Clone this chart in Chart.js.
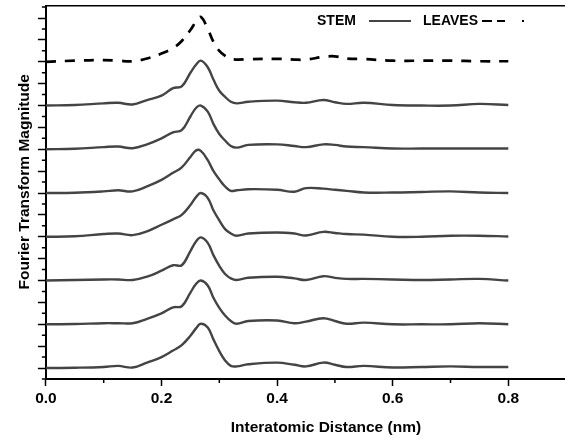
<html>

<head>
  <script src="https://cdn.jsdelivr.net/npm/chart.js@4.4.0/dist/chart.umd.min.js"></script>
  <style>
    body { margin: 0; overflow: hidden; background: #fff; }
  </style>
</head>

<body>
  <canvas id="ftChart" width="610" height="439"></canvas>
</body>

<script>
  // interatomic distance (nm), shared by every curve
  const distance = [0, 0.05, 0.1, 0.125, 0.15, 0.175, 0.2, 0.22, 0.235, 0.25, 0.26, 0.268, 0.28, 0.29, 0.3,
    0.31, 0.32, 0.33, 0.35, 0.4, 0.43, 0.45, 0.48, 0.5, 0.52, 0.55, 0.6, 0.65, 0.7, 0.75, 0.8];

  // magnitudes (each curve relative to its own baseline)
  const leaves = [0, 0.1, 0.15, 0.1, 0.05, 0.3, 0.75, 1.25, 1.9, 2.9, 3.7, 4.1, 3.0, 1.8, 1.0,
    0.55, 0.27, 0.2, 0.23, 0.27, 0.2, 0.2, 0.45, 0.5, 0.3, 0.25, 0.1, 0.1, 0.1, 0.05, 0.05];
  const stem1 = [0, 0.05, 0.2, 0.25, 0.1, 0.5, 0.9, 1.6, 1.75, 3.0, 3.75, 4.1, 3.5, 2.35, 1.35,
    0.8, 0.35, 0.2, 0.35, 0.45, 0.3, 0.25, 0.5, 0.3, 0.15, 0.25, 0.05, 0, 0, 0.15, 0.05];
  const stem2 = [0, 0.05, 0.2, 0.25, 0.1, 0.45, 1.0, 1.55, 1.75, 3.0, 3.8, 4.0, 3.45, 2.3, 1.4,
    0.8, 0.3, 0.15, 0.4, 0.45, 0.3, 0.2, 0.45, 0.4, 0.25, 0.2, 0.07, 0.07, 0.07, 0.07, 0.07];
  const stem3 = [0, 0.03, 0.15, 0.25, 0.15, 0.6, 1.2, 1.85, 2.35, 3.3, 3.9, 3.85, 3.0, 2.0, 1.25,
    0.6, 0.2, 0.25, 0.35, 0.3, 0.12, 0.45, 0.4, 0.3, 0.2, 0.05, 0.05, 0.1, 0.15, 0.05, 0];
  const stem4 = [0, 0.05, 0.25, 0.3, 0.15, 0.5, 1.1, 1.6, 2.0, 2.9, 3.65, 4.0, 3.55, 2.4, 1.5,
    0.7, 0.3, 0.1, 0.3, 0.4, 0.3, 0.12, 0.45, 0.35, 0.25, 0.2, 0, 0, 0.1, 0.1, 0.03];
  const stem5 = [0, 0.05, 0.1, 0.1, 0.05, 0.35, 0.9, 1.4, 1.4, 2.7, 3.6, 3.95, 3.45, 2.3, 1.35,
    0.6, 0.2, 0.05, 0.25, 0.35, 0.2, 0.05, 0.4, 0.25, 0.15, 0.15, 0.1, 0.05, 0.1, 0.15, 0];
  const stem6 = [0, 0.03, 0.1, 0.1, 0.1, 0.5, 1.0, 1.55, 1.65, 2.9, 3.7, 4.0, 3.55, 2.4, 1.5,
    0.8, 0.3, 0.05, 0.3, 0.35, 0.1, 0.25, 0.55, 0.3, 0.05, 0.15, 0, 0, 0, 0.1, 0];
  const stem7 = [0, 0.03, 0.1, 0.2, 0.05, 0.5, 1.0, 1.6, 2.1, 2.95, 3.65, 4.05, 3.7, 2.6, 1.55,
    0.7, 0.2, 0.15, 0.35, 0.5, 0.3, 0.15, 0.5, 0.3, 0.1, 0.2, 0.05, 0.1, 0.15, 0.1, 0.1];

  // curves top to bottom, each one shifted up by offsetStep
  const curves = [leaves, stem1, stem2, stem3, stem4, stem5, stem6, stem7];
  const offsetStep = 4;

  const xTickLabels = ['0.0', '0.2', '0.4', '0.6', '0.8'];
  const xMinorTicks = [0.1, 0.3, 0.5, 0.7, 0.9];
  const yMinorTicks = [-1, 1, 3, 5, 7, 9, 11, 13, 15, 17, 19, 21, 23, 25, 27, 29, 31, 33];

  const FONT = "'Liberation Sans', Arial, sans-serif";
  Chart.defaults.font.family = FONT;
  Chart.defaults.color = '#000';

  const datasets = curves.map(function (vals, i) {
    const shift = (curves.length - 1 - i) * offsetStep;
    const isLeaves = i === 0;
    return {
      label: isLeaves ? 'LEAVES' : 'STEM',
      data: distance.map((d, k) => ({ x: d, y: vals[k] + shift })),
      borderColor: isLeaves ? '#000' : '#444',
      borderWidth: isLeaves ? 2.7 : 2.4,
      borderDash: isLeaves ? [10, 9] : [],
      pointRadius: 0,
      tension: 0.4,
      fill: false
    };
  });

  // short minor ticks + the little legend in the upper right
  const extras = {
    id: 'extras',
    afterDraw(chart) {
      const { ctx, chartArea, scales } = chart;
      ctx.save();
      ctx.strokeStyle = '#000';
      ctx.lineWidth = 1.5;
      ctx.beginPath();
      xMinorTicks.forEach(v => {
        const px = scales.x.getPixelForValue(v);
        ctx.moveTo(px, chartArea.bottom);
        ctx.lineTo(px, chartArea.bottom + 4);
      });
      yMinorTicks.forEach(v => {
        const py = scales.y.getPixelForValue(v);
        ctx.moveTo(chartArea.left - 4, py);
        ctx.lineTo(chartArea.left, py);
      });
      ctx.stroke();

      // legend
      const ly = chartArea.top + 15;
      ctx.font = 'bold 14px ' + FONT;
      ctx.textBaseline = 'middle';
      ctx.fillStyle = '#000';
      ctx.fillText('STEM', 317, ly);
      ctx.strokeStyle = '#444';
      ctx.lineWidth = 2;
      ctx.beginPath();
      ctx.moveTo(369, ly);
      ctx.lineTo(411, ly);
      ctx.stroke();
      ctx.fillText('LEAVES', 423, ly);
      ctx.strokeStyle = '#000';
      ctx.lineWidth = 2.2;
      ctx.setLineDash([10, 5, 8, 17, 2, 30]);
      ctx.beginPath();
      ctx.moveTo(482, ly);
      ctx.lineTo(524, ly);
      ctx.stroke();
      ctx.restore();
    }
  };

  const ctx = document.getElementById('ftChart').getContext('2d');
  const chart = new Chart(ctx, {
    type: 'line',
    data: { datasets },
    plugins: [extras],
    options: {
      responsive: false,
      animation: false,
      layout: { padding: { left: 11.3, top: 6, right: 4, bottom: 1.8 } },
      plugins: { legend: { display: false }, tooltip: { enabled: false } },
      scales: {
        x: {
          type: 'linear',
          min: 0,
          max: 0.969,
          ticks: {
            stepSize: 0.2,
            includeBounds: false,
            maxRotation: 0,
            autoSkip: false,
            font: { size: 15.5, weight: 'bold' },
            callback: (v, i) => xTickLabels[i]
          },
          grid: { drawOnChartArea: false, tickLength: 7, tickWidth: 1.5, tickColor: '#000' },
          border: { color: '#000', width: 2 },
          title: {
            display: true,
            text: 'Interatomic Distance (nm)',
            font: { size: 15.5, weight: 'bold' },
            padding: { top: 8, bottom: 0 }
          }
        },
        xTop: {
          type: 'linear',
          position: 'top',
          min: 0,
          max: 0.969,
          ticks: { display: false },
          grid: { display: false, drawTicks: false },
          border: { display: true, color: '#000', width: 1.5 }
        },
        y: {
          min: -1,
          max: 33.1,
          ticks: { display: false, stepSize: 2, includeBounds: false },
          grid: { drawOnChartArea: false, tickLength: 8, tickWidth: 1.5, tickColor: '#000' },
          border: { color: '#000', width: 2 },
          title: {
            display: true,
            // leading spaces nudge the rotated title up a little, as in the original
            text: '     Fourier Transform Magnitude',
            font: { size: 15.5, weight: 'bold' },
            padding: { top: 4, bottom: 4 }
          }
        }
      }
    }
  });
</script>

</html>
